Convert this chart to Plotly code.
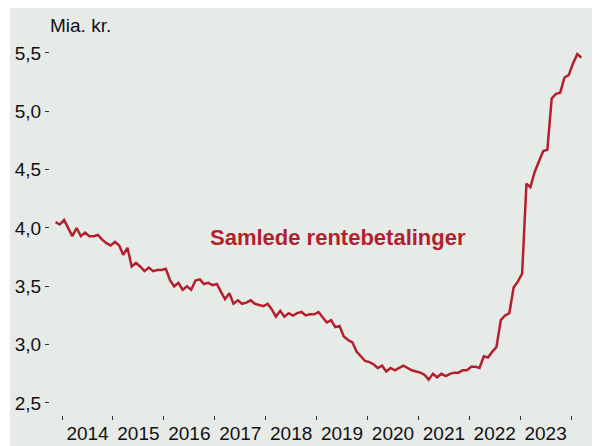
import pandas as pd
import plotly.graph_objects as go

# Monthly observations, Oct 2013 - Feb 2024 (billions DKK)
start_month = "2013-10-15"
values = [
    4.05, 4.03, 4.07, 3.99, 3.93, 4.00, 3.93, 3.96, 3.93, 3.93, 3.94, 3.90, 3.87, 3.85, 3.88, 3.85,
    3.77, 3.83, 3.67, 3.70, 3.67, 3.63, 3.66, 3.63, 3.64, 3.64, 3.65,
    3.55, 3.50, 3.53, 3.47, 3.50, 3.47, 3.55, 3.56, 3.52, 3.53, 3.51, 3.52,
    3.45, 3.39, 3.44, 3.35, 3.38, 3.35, 3.36, 3.38, 3.35, 3.34, 3.33, 3.35,
    3.30, 3.24, 3.29, 3.24, 3.27, 3.25, 3.27, 3.28, 3.25, 3.26, 3.26, 3.28,
    3.23, 3.19, 3.21, 3.15, 3.16, 3.07, 3.04, 3.02, 2.94, 2.90, 2.86, 2.85,
    2.83, 2.80, 2.82, 2.77, 2.80, 2.78, 2.80, 2.82, 2.80, 2.78, 2.77, 2.76,
    2.74, 2.70, 2.75, 2.72, 2.75, 2.73, 2.75, 2.76, 2.76, 2.78, 2.78, 2.81,
    2.81, 2.80, 2.90, 2.89, 2.94, 2.98, 3.21, 3.25, 3.27, 3.49, 3.54, 3.61,
    4.38, 4.35, 4.48, 4.57, 4.66, 4.67, 5.11, 5.15, 5.16, 5.29, 5.31, 5.41,
    5.49, 5.46,
]
dates = pd.date_range(start=start_month, periods=len(values), freq="MS") + pd.Timedelta(days=14)

series_label = "Samlede rentebetalinger"
unit_label = "Mia. kr."
y_ticks = [2.5, 3.0, 3.5, 4.0, 4.5, 5.0, 5.5]

RED = "#B41F2E"
BG = "#E7EBE8"
FONT = "Liberation Sans, Arial, sans-serif"

fig = go.Figure()
fig.add_trace(go.Scatter(x=dates, y=values, mode="lines",
                         line=dict(color=RED, width=2.5), hoverinfo="skip"))

fig.add_annotation(x="2019-06-05", y=3.92, xref="x", yref="y", text=f"<b>{series_label}</b>",
                   showarrow=False, font=dict(family=FONT, size=22, color=RED),
                   xanchor="center", yanchor="middle")
fig.add_annotation(x=0, y=1, xref="paper", yref="paper", text=unit_label, showarrow=False,
                   font=dict(family=FONT, size=19, color="#111"), xanchor="left",
                   yanchor="middle", yshift=5, xshift=-2)

# thin white strip at the far left
fig.add_shape(type="rect", xref="paper", yref="paper", x0=-0.2, x1=-0.0741, y0=-0.2, y1=1.2,
              fillcolor="white", line_width=0, layer="above")

fig.update_layout(
    width=600, height=446,
    margin=dict(l=42, r=18, t=22, b=39, autoexpand=False),
    paper_bgcolor=BG, plot_bgcolor=BG,
    showlegend=False,
    separators=", ",
    font=dict(family=FONT, size=19, color="#111"),
    xaxis=dict(range=["2013-10-06", "2024-05-16"], tick0="2014-01-01", dtick="M12",
               tickformat="%Y", ticklabelmode="period", ticks="outside", ticklen=4,
               tickcolor="#333", showgrid=False, zeroline=False, showline=False,
               tickfont=dict(size=19), ticklabelstandoff=-3, automargin=False),
    yaxis=dict(range=[2.397, 5.697], tickvals=y_ticks, tickformat=".1f", ticks="outside",
               ticklen=4, tickcolor="#333", showgrid=False, zeroline=False, showline=False,
               tickfont=dict(size=19), automargin=False),
)

fig.write_html("out.html")
